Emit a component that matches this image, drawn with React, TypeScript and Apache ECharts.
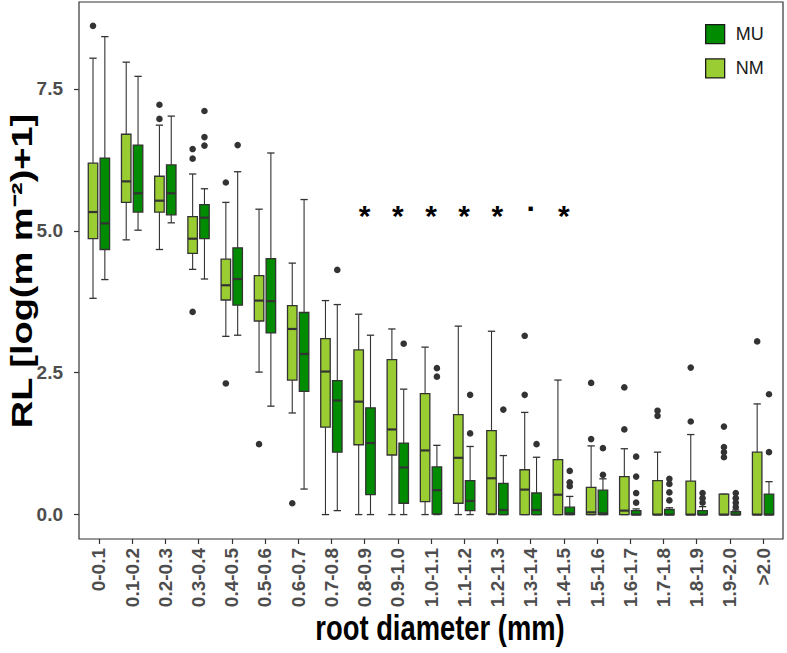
import React, { useEffect, useRef } from 'react';
import * as echarts from 'echarts';

const categories = [
  '0-0.1', '0.1-0.2', '0.2-0.3', '0.3-0.4', '0.4-0.5', '0.5-0.6', '0.6-0.7',
  '0.7-0.8', '0.8-0.9', '0.9-1.0', '1.0-1.1', '1.1-1.2', '1.2-1.3', '1.3-1.4',
  '1.4-1.5', '1.5-1.6', '1.6-1.7', '1.7-1.8', '1.8-1.9', '1.9-2.0', '>2.0',
];

// [whisker low, Q1, median, Q3, whisker high]
const nmBoxes = [
  [3.81, 4.86, 5.33, 6.19, 8.04],
  [4.84, 5.5, 5.87, 6.7, 7.97],
  [4.67, 5.33, 5.53, 5.96, 6.86],
  [4.32, 4.6, 4.86, 5.25, 6.0],
  [3.14, 3.78, 4.04, 4.5, 5.5],
  [2.51, 3.41, 3.77, 4.21, 5.38],
  [1.79, 2.37, 3.27, 3.68, 4.43],
  [0, 1.54, 2.52, 3.1, 3.77],
  [0, 1.23, 1.99, 2.9, 3.53],
  [0, 1.05, 1.5, 2.73, 3.27],
  [0, 0.23, 1.13, 2.13, 2.95],
  [0, 0.2, 1.0, 1.76, 3.32],
  [0, 0.01, 0.64, 1.48, 3.23],
  [0, 0, 0.44, 0.79, 1.8],
  [0, 0, 0.35, 0.97, 2.37],
  [0, 0, 0.04, 0.48, 1.21],
  [0, 0, 0.07, 0.67, 1.16],
  [0, 0, 0, 0.6, 1.1],
  [0, 0, 0, 0.59, 1.41],
  [0, 0, 0, 0.36, 0.36],
  [0, 0, 0, 1.1, 1.95],
];

const muBoxes = [
  [4.14, 4.67, 5.13, 6.28, 8.42],
  [5.01, 5.33, 5.66, 6.51, 7.72],
  [5.14, 5.28, 5.66, 6.16, 7.02],
  [4.15, 4.86, 5.23, 5.46, 5.74],
  [3.16, 3.69, 4.15, 4.7, 6.04],
  [1.91, 3.2, 3.76, 4.51, 6.37],
  [0.45, 2.17, 2.83, 3.56, 5.55],
  [0.07, 1.1, 2.01, 2.36, 3.7],
  [0, 0.35, 1.26, 1.88, 3.16],
  [0, 0.2, 0.83, 1.26, 2.21],
  [0, 0.01, 0.43, 0.84, 1.22],
  [0, 0.07, 0.24, 0.6, 1.2],
  [0, 0, 0.08, 0.55, 1.04],
  [0, 0, 0.08, 0.38, 1.01],
  [0, 0, 0.02, 0.13, 0.32],
  [0, 0, 0.02, 0.43, 0.63],
  [0, 0, 0, 0.07, 0.1],
  [0, 0, 0, 0.09, 0.12],
  [0, 0, 0, 0.07, 0.14],
  [0, 0, 0, 0.05, 0.08],
  [0, 0, 0, 0.36, 0.58],
];

const nmOutliers = [
  [8.61], [], [7.22, 6.97], [6.44, 6.27, 3.57], [5.85, 2.31], [1.24], [0.2],
  [], [], [], [], [], [], [3.15, 2.11], [],
  [2.32, 1.33], [2.24, 1.5], [1.83, 1.74], [2.59, 1.64], [1.55, 1.19, 1.1, 1.01], [3.05],
];

const muOutliers = [
  [], [], [], [7.11, 6.65, 6.5], [6.51], [], [],
  [4.31], [], [3.01], [2.58, 2.43], [2.11, 1.43], [1.85], [1.24], [0.77, 0.57, 0.5],
  [1.17, 0.7], [1.02, 0.67, 0.38, 0.21], [0.63, 0.54, 0.39, 0.25], [0.38, 0.29, 0.21],
  [0.38, 0.29, 0.21, 0.13], [2.12, 1.1],
];

const sigMarks = ['', '', '', '', '', '', '', '', '*', '*', '*', '*', '*', '.', '*', '', '', '', '', '', ''];
const sigLevel = 5.39;
const yTicks = [0, 2.5, 5, 7.5];

const NM_COLOR = '#9ACD32';
const MU_COLOR = '#008B00';
const LINE = '#333333';
const FONT = "'Liberation Sans', Arial, sans-serif";
const DODGE = 0.178;
const BOX_HALF = 0.143;
const CAP_HALF = 0.11;

function boxRenderer(offset: number) {
  return (params: any, api: any) => {
    const i = api.value(0);
    const band = api.size([1, 0])[0];
    const cx = api.coord([i, 0])[0] + offset * band;
    const y = (k: number) => api.coord([i, api.value(k)])[1];
    const yMin = y(1), yQ1 = y(2), yMed = y(3), yQ3 = y(4), yMax = y(5);
    const hw = band * BOX_HALF;
    const cw = band * CAP_HALF;
    const line = (x1: number, y1: number, x2: number, y2: number, lw: number) => ({
      type: 'line',
      shape: { x1, y1, x2, y2 },
      style: { stroke: LINE, lineWidth: lw },
    });
    return {
      type: 'group',
      children: [
        line(cx, yMax, cx, yQ3, 1.1),
        line(cx, yQ1, cx, yMin, 1.1),
        line(cx - cw, yMax, cx + cw, yMax, 1.3),
        line(cx - cw, yMin, cx + cw, yMin, 1.3),
        {
          type: 'rect',
          shape: { x: cx - hw, y: yQ3, width: 2 * hw, height: Math.max(yQ1 - yQ3, 0.5) },
          style: { fill: api.visual('color'), stroke: LINE, lineWidth: 1.3 },
        },
        line(cx - hw, yMed, cx + hw, yMed, 2.2),
      ],
    };
  };
}

function outlierRenderer(offset: number) {
  return (params: any, api: any) => {
    const band = api.size([1, 0])[0];
    const p = api.coord([api.value(0), api.value(1)]);
    return {
      type: 'circle',
      shape: { cx: p[0] + offset * band, cy: p[1], r: 3.3 },
      style: { fill: LINE },
    };
  };
}

const sigPoints = sigMarks.map((m, i) => ({ i, m })).filter((p) => p.m);

export default function App() {
  const ref = useRef<HTMLDivElement>(null);
  useEffect(() => {
    if (!ref.current) return;
    const chart = echarts.init(ref.current, undefined, { renderer: 'svg' });
    const idx = categories.map((_, i) => i);
    const option: any = {
      animation: false,
      backgroundColor: '#ffffff',
      grid: {
        left: 79, top: 2, width: 704, height: 537,
        show: true, borderColor: LINE, borderWidth: 1.2, backgroundColor: 'transparent',
      },
      legend: {
        orient: 'vertical',
        left: 705,
        top: 24,
        padding: 0,
        itemWidth: 19,
        itemHeight: 19,
        itemGap: 14,
        icon: 'rect',
        textStyle: { fontSize: 18, color: '#1a1a1a', fontFamily: FONT, padding: [0, 0, 0, 6] },
        data: [
          { name: 'MU', itemStyle: { color: MU_COLOR, borderColor: '#1a1a1a', borderWidth: 1.3 } },
          { name: 'NM', itemStyle: { color: NM_COLOR, borderColor: '#1a1a1a', borderWidth: 1.3 } },
        ],
      },
      xAxis: {
        type: 'value',
        min: -0.6,
        max: categories.length - 0.4,
        axisLine: { show: false, onZero: false },
        splitLine: { show: false },
        axisTick: { show: true, length: 5, lineStyle: { color: LINE, width: 1.2 }, customValues: idx },
        axisLabel: {
          customValues: idx,
          rotate: 90,
          margin: 9,
          formatter: (v: number) => categories[Math.round(v)],
          fontSize: 19,
          fontWeight: 'bold',
          color: '#4D4D4D',
          fontFamily: FONT,
        },
      },
      yAxis: {
        type: 'value',
        min: -0.43,
        max: 9.03,
        axisLine: { show: false, onZero: false },
        splitLine: { show: false },
        axisTick: { show: true, length: 5, lineStyle: { color: LINE, width: 1.2 }, customValues: yTicks },
        axisLabel: {
          customValues: yTicks,
          margin: 16,
          formatter: (v: number) => v.toFixed(1),
          fontSize: 19,
          fontWeight: 'bold',
          color: '#4D4D4D',
          fontFamily: FONT,
        },
      },
      series: [
        {
          name: 'NM',
          type: 'custom',
          itemStyle: { color: NM_COLOR },
          renderItem: boxRenderer(-DODGE),
          encode: { x: 0, y: [1, 2, 3, 4, 5] },
          data: nmBoxes.map((b, i) => [i, ...b]),
          z: 2,
        },
        {
          name: 'MU',
          type: 'custom',
          itemStyle: { color: MU_COLOR },
          renderItem: boxRenderer(DODGE),
          encode: { x: 0, y: [1, 2, 3, 4, 5] },
          data: muBoxes.map((b, i) => [i, ...b]),
          z: 2,
        },
        {
          name: 'NM outliers',
          type: 'custom',
          renderItem: outlierRenderer(-DODGE),
          encode: { x: 0, y: 1 },
          data: nmOutliers.flatMap((vals, i) => vals.map((v) => [i, v])),
          z: 3,
        },
        {
          name: 'MU outliers',
          type: 'custom',
          renderItem: outlierRenderer(DODGE),
          encode: { x: 0, y: 1 },
          data: muOutliers.flatMap((vals, i) => vals.map((v) => [i, v])),
          z: 3,
        },
        {
          name: 'significance',
          type: 'custom',
          encode: { x: 0, y: 1 },
          data: sigPoints.map((p) => [p.i, sigLevel]),
          renderItem: (params: any, api: any) => {
            const p = api.coord([api.value(0), api.value(1)]);
            const mark = sigPoints[params.dataIndex].m;
            const fs = 30;
            const dy = mark === '*' ? 0.23 * fs : -0.27 * fs;
            return {
              type: 'text',
              x: p[0],
              y: p[1] + dy,
              style: {
                text: mark,
                fontSize: fs,
                fontWeight: 'bold',
                fontFamily: FONT,
                fill: '#000',
                align: 'center',
                verticalAlign: 'middle',
              },
            };
          },
          z: 4,
        },
      ],
      graphic: [
        {
          type: 'text',
          x: 440,
          y: 628,
          scaleX: 0.76,
          style: {
            text: 'root diameter (mm)',
            fontSize: 36,
            fontWeight: 'bold',
            fontFamily: FONT,
            fill: '#000',
            align: 'center',
            verticalAlign: 'middle',
          },
        },
        {
          type: 'text',
          x: 22,
          y: 271,
          rotation: Math.PI / 2,
          scaleY: 0.76,
          style: {
            text: 'RL [log(m m\u207B\u00B2)+1]',
            fontSize: 38,
            fontWeight: 'bold',
            fontFamily: FONT,
            fill: '#000',
            align: 'center',
            verticalAlign: 'middle',
          },
        },
      ],
    };
    chart.setOption(option);
    return () => chart.dispose();
  }, []);
  return (
    <div
      ref={ref}
      style={{ position: 'absolute', left: 0, top: 0, width: 787, height: 653 }}
    />
  );
}
